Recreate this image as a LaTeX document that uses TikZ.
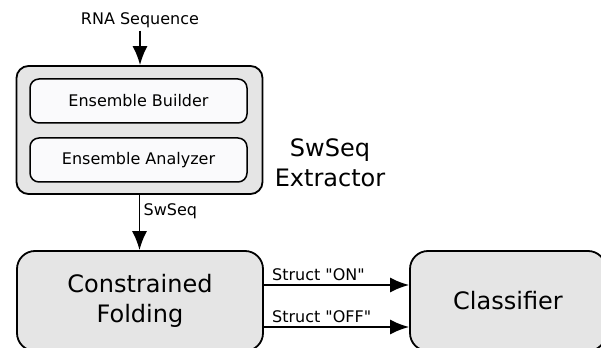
\documentclass[tikz,border=0pt]{standalone}
\usepackage{fontspec}
\setmainfont{DejaVu Sans}
\usetikzlibrary{arrows.meta}
\definecolor{boxgray}{HTML}{E5E5E5}
\definecolor{boxwhite}{HTML}{FAFAFC}
\begin{document}
\begin{tikzpicture}[>={Latex[length=19bp,width=15bp]},line join=bevel,
  smalltext/.style={font=\fontsize{16bp}{19bp}\selectfont},
  bigtext/.style={font=\fontsize{24bp}{30bp}\selectfont,align=center},
  outerbox/.style={draw=black,line width=1.8bp,fill=boxgray,inner sep=0pt},
  innerbox/.style={draw=black,line width=1.5bp,fill=boxwhite,inner sep=0pt,rounded corners=9bp,
    minimum width=217bp,minimum height=44bp},
  flow/.style={->,line width=1.8bp},]
%%
\useasboundingbox (0bp,0bp) rectangle (601bp,348bp);
\clip (0bp,0bp) rectangle (601bp,348bp);
\node (node_rna) at (140.0bp,323.0bp) [smalltext,anchor=base,inner sep=2bp] {RNA Sequence};
  \node (node_extractor) at (139.5bp,218.0bp) [outerbox,rounded corners=12bp,minimum width=246bp,minimum height=128bp] {};
  \node (node_builder) at (138.5bp,247.0bp) [innerbox,smalltext] {Ensemble Builder};
  \node (node_analyzer) at (138.5bp,188.0bp) [innerbox,smalltext] {Ensemble Analyzer};
  \node (node_label) at (330.0bp,185.5bp) [bigtext] {SwSeq\\Extractor};
  \node (node_folding) at (140.0bp,47.0bp) [outerbox,bigtext,rounded corners=18bp,minimum width=246bp,minimum height=100bp] {Constrained\\Folding};
  \node (node_classifier) at (508.0bp,47.0bp) [outerbox,bigtext,rounded corners=18bp,minimum width=196bp,minimum height=100bp] {Classifier};
  \draw [flow] (node_rna.south) -- (node_rna.south |- node_extractor.north);
  \draw [flow] (node_extractor.south) -- node [smalltext,anchor=west,pos=0.3] {SwSeq} (node_extractor.south |- node_folding.north);
  \draw [flow] ([yshift=16bp]node_folding.east) -- node [smalltext,anchor=south west,pos=0,xshift=4bp] {Struct \textquotedbl ON\textquotedbl} ([yshift=16bp]node_classifier.west);
  \draw [flow] ([yshift=-26bp]node_folding.east) -- node [smalltext,anchor=south west,pos=0,xshift=4bp] {Struct \textquotedbl OFF\textquotedbl} ([yshift=-26bp]node_classifier.west);
%
\end{tikzpicture}
\end{document}
